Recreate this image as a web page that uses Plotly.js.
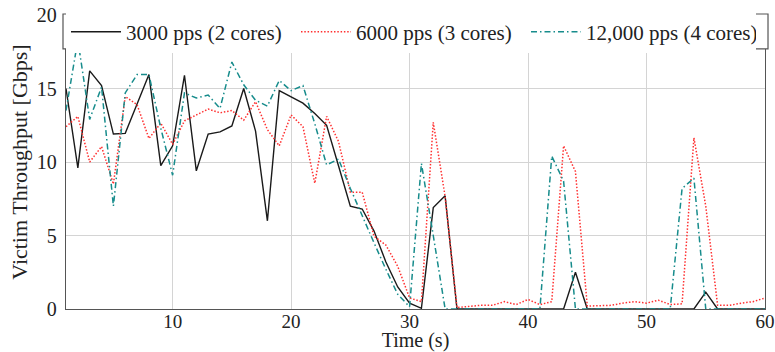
<!DOCTYPE html>
<html>
<head>
<meta charset="utf-8">
<script src="https://cdn.plot.ly/plotly-3.0.1.min.js"></script>
<style>
  html, body { margin: 0; padding: 0; background: #fff; }
  #chart { width: 775px; height: 352px; }
</style>
</head>
<body>
<div id="chart"></div>
<script>
const timeSec = [1,2,3,4,5,6,7,8,9,10,11,12,13,14,15,16,17,18,19,20,
  21,22,23,24,25,26,27,28,29,30,31,32,33,34,35,36,37,38,39,40,
  41,42,43,44,45,46,47,48,49,50,51,52,53,54,55,56,57,58,59,60];

const pps3000 = [15.0,9.6,16.2,15.2,11.9,11.95,13.95,15.95,9.75,11.1,
  15.9,9.4,11.9,12.05,12.45,15.0,12.1,6.0,14.85,14.45,
  14.0,13.3,12.5,9.75,7.0,6.8,5.3,3.2,1.5,0.4,
  0.05,6.9,7.7,0,0,0,0,0,0,0,
  0,0,0,2.5,0,0,0,0,0,0,
  0,0,0,0,1.15,0,0,0,0,0];

const pps6000 = [12.4,13.1,10.0,11.05,8.5,14.45,13.9,11.6,12.65,11.2,
  12.8,13.2,13.6,13.35,13.5,12.85,14.1,12.2,11.1,13.2,
  12.4,8.55,13.1,11.4,7.95,7.95,4.95,4.35,2.9,0.75,
  0.5,12.7,7.65,0.1,0.2,0.25,0.25,0.5,0.3,0.65,
  0.3,0.5,11.1,9.35,0.2,0.2,0.25,0.4,0.5,0.4,
  0.6,0.3,0.35,11.65,7.0,0.25,0.25,0.4,0.5,0.75];

const pps12000 = [13.5,18.3,12.9,15.1,7.0,14.7,15.95,15.95,12.3,9.1,
  14.7,14.35,14.55,13.65,16.8,15.25,14.2,13.8,15.55,14.85,
  15.2,12.6,9.8,10.2,8.2,6.3,4.5,2.7,1.0,0.15,
  9.9,5.0,0,0,0,0,0,0,0,0,
  0,10.4,8.7,0,0,0,0,0,0,0,
  0,0,8.2,8.9,0,0,0,0,0,0];

const seriesNames = ['3000 pps (2 cores)', '6000 pps (3 cores)', '12,000 pps (4 cores)'];
const xTicks = [10,20,30,40,50,60];
const yTicks = [0,5,10,15,20];

const FONT = 'Liberation Serif, Times New Roman, serif';

const traces = [
  { x: timeSec, y: pps3000, name: seriesNames[0], type: 'scatter', mode: 'lines',
    line: { color: '#1a1a1a', width: 1.4 } },
  { x: timeSec, y: pps6000, name: seriesNames[1], type: 'scatter', mode: 'lines',
    line: { color: '#ff3030', width: 1.5, dash: '1.5px,1.8px' } },
  { x: timeSec, y: pps12000, name: seriesNames[2], type: 'scatter', mode: 'lines',
    line: { color: '#178c8c', width: 1.5, dash: '6px,3px,1.5px,3px' } }
];

const layout = {
  width: 775, height: 352,
  margin: { l: 66, r: 10, t: 15, b: 43 },
  paper_bgcolor: '#fff', plot_bgcolor: '#fff',
  font: { family: FONT, size: 20, color: '#222' },
  showlegend: true,
  xaxis: {
    range: [1, 60], tickvals: xTicks, ticktext: xTicks.map(String),
    showgrid: true, gridcolor: '#d4d4d4', gridwidth: 1,
    showline: true, linecolor: '#555', linewidth: 1.2, mirror: true,
    zeroline: false, ticks: '', ticklabelstandoff: -5,
    tickfont: { family: FONT, size: 19, color: '#222' },
    title: { text: 'Time (s)', font: { family: FONT, size: 20, color: '#222' }, standoff: 4 },
    automargin: false
  },
  yaxis: {
    range: [0, 20], tickvals: yTicks, ticktext: yTicks.map(String),
    showgrid: true, gridcolor: '#d4d4d4', gridwidth: 1,
    showline: true, linecolor: '#555', linewidth: 1.2, mirror: true,
    zeroline: false, ticks: '', ticklabelstandoff: 4,
    tickfont: { family: FONT, size: 20, color: '#222' },
    title: { text: 'Victim Throughput [Gbps]', font: { family: FONT, size: 22, color: '#222' }, standoff: 3 },
    automargin: false
  },
  shapes: [
    { type: 'rect', xref: 'paper', yref: 'paper', layer: 'above',
      x0: -0.0043, x1: 1.0043, y0: 0.8845, y1: 1.0034,
      line: { color: '#555', width: 1.2 }, fillcolor: '#fff' }
  ],
  legend: {
    orientation: 'h', x: 0, xanchor: 'left', y: 0.942, yanchor: 'middle',
    bgcolor: '#fff', borderwidth: 0,
    font: { family: FONT, size: 21, color: '#222' },
    entrywidth: 165, entrywidthmode: 'pixels', itemwidth: 50
  }
};

Plotly.newPlot('chart', traces, layout, { displayModeBar: false, staticPlot: true });
</script>
</body>
</html>
